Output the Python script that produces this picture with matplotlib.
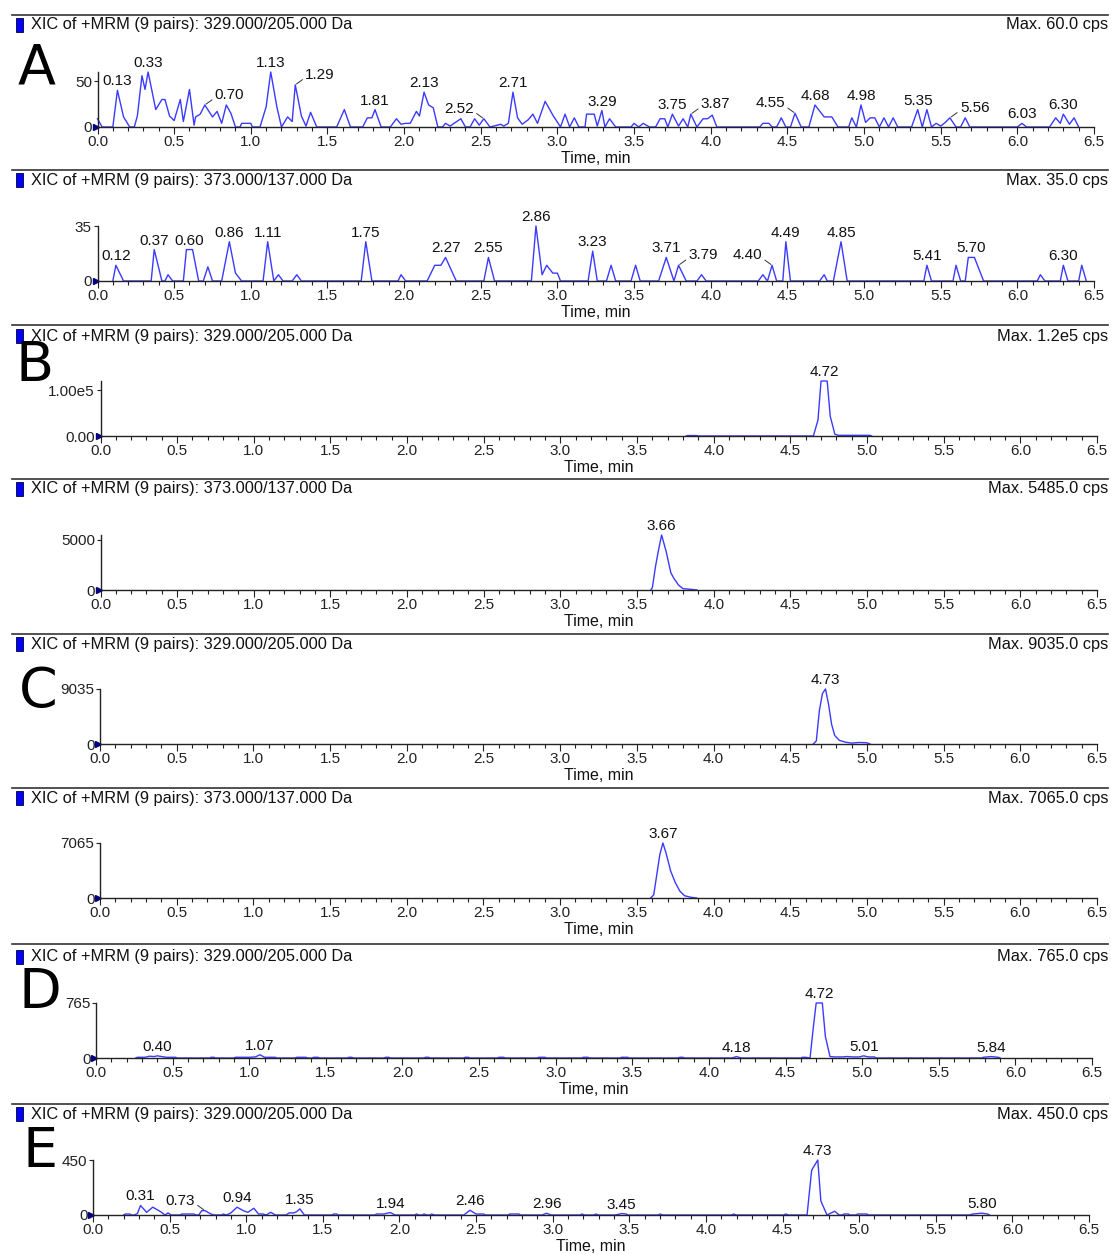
import matplotlib
matplotlib.use('Agg')
import matplotlib.pyplot as plt
import matplotlib.transforms as mtransforms
from matplotlib.lines import Line2D
from matplotlib.patches import Rectangle
from matplotlib.ticker import MultipleLocator, FormatStrFormatter

plt.rcParams['font.family'] = ['Liberation Sans', 'DejaVu Sans']

W, H = 1111, 1254

TITLE_A = 'XIC of +MRM (9 pairs): 329.000/205.000 Da'
TITLE_B = 'XIC of +MRM (9 pairs): 373.000/137.000 Da'

# ---- data: (time min, intensity cps) ----
trace_a1 = [(0.00, 9), (0.03, 0), (0.10, 0), (0.13, 40), (0.17, 11), (0.21, 0), (0.24, 0),
            (0.26, 12), (0.29, 56), (0.31, 41), (0.33, 60), (0.38, 19), (0.42, 30), (0.44, 30),
            (0.47, 12), (0.50, 7), (0.54, 30), (0.56, 6), (0.60, 41), (0.63, 2), (0.64, 11),
            (0.67, 14), (0.70, 24), (0.75, 11), (0.78, 17), (0.81, 4), (0.84, 24), (0.87, 15),
            (0.90, 0), (0.93, 0), (0.94, 4), (1.00, 4), (1.01, 0), (1.06, 0), (1.10, 22),
            (1.13, 60), (1.17, 22), (1.20, 0), (1.24, 11), (1.27, 6), (1.29, 46), (1.33, 12),
            (1.36, 1), (1.39, 16), (1.43, 0), (1.56, 0), (1.61, 19), (1.65, 0), (1.73, 0),
            (1.76, 10), (1.79, 10), (1.81, 19), (1.85, 0), (1.91, 0), (1.95, 9), (1.98, 3),
            (2.01, 4), (2.04, 4), (2.08, 17), (2.10, 12), (2.13, 38), (2.16, 24), (2.19, 21),
            (2.22, 0), (2.25, 0), (2.27, 4), (2.30, 1), (2.37, 9), (2.40, 0), (2.43, 0),
            (2.46, 9), (2.49, 2), (2.52, 9), (2.56, 0), (2.63, 3), (2.65, 1), (2.68, 4),
            (2.71, 38), (2.74, 10), (2.77, 3), (2.81, 8), (2.84, 14), (2.87, 4), (2.92, 28),
            (2.97, 13), (3.02, 0), (3.05, 14), (3.08, 0), (3.11, 10), (3.14, 0), (3.18, 0),
            (3.19, 14), (3.24, 14), (3.26, 1), (3.29, 18), (3.31, 0), (3.34, 9), (3.38, 0),
            (3.48, 0), (3.50, 4), (3.53, 0), (3.56, 4), (3.60, 0), (3.64, 0), (3.67, 9),
            (3.70, 9), (3.72, 0), (3.75, 14), (3.79, 1), (3.82, 9), (3.85, 0), (3.87, 14),
            (3.91, 0), (3.95, 9), (3.98, 9), (4.01, 13), (4.04, 0), (4.32, 0), (4.34, 4),
            (4.38, 4), (4.40, 0), (4.43, 0), (4.46, 10), (4.49, 0), (4.52, 0), (4.55, 15),
            (4.59, 0), (4.64, 0), (4.68, 24), (4.74, 11), (4.79, 11), (4.83, 0), (4.90, 0),
            (4.92, 10), (4.95, 0), (4.98, 24), (5.01, 5), (5.04, 10), (5.07, 10), (5.10, 0),
            (5.13, 10), (5.16, 0), (5.19, 10), (5.22, 0), (5.31, 0), (5.35, 19), (5.38, 0),
            (5.41, 19), (5.44, 0), (5.47, 4), (5.50, 1), (5.53, 5), (5.56, 10), (5.60, 0),
            (5.63, 0), (5.66, 10), (5.69, 0), (6.00, 0), (6.03, 4), (6.06, 0), (6.21, 0),
            (6.25, 10), (6.28, 4), (6.30, 14), (6.34, 3), (6.37, 10), (6.40, 0)]
peaks_a1 = [0.13, 0.33, 0.70, 1.13, 1.29, 1.81, 2.13, 2.52, 2.71, 3.29, 3.75, 3.87,
            4.55, 4.68, 4.98, 5.35, 5.56, 6.03, 6.30]
leaders_a1 = {0.70: 'r', 1.29: 'r', 2.52: 'l', 3.87: 'r', 4.55: 'l', 5.56: 'r'}

trace_a2 = [(0.10, 0), (0.12, 10), (0.17, 0), (0.35, 0), (0.37, 20), (0.42, 0), (0.44, 0),
            (0.46, 4), (0.49, 0), (0.56, 0), (0.58, 20), (0.60, 20), (0.62, 20), (0.66, 0),
            (0.69, 0), (0.72, 9), (0.75, 0), (0.81, 0), (0.86, 25), (0.90, 5), (0.94, 0),
            (1.08, 0), (1.11, 25), (1.15, 0), (1.18, 4), (1.21, 0), (1.27, 0), (1.30, 4),
            (1.33, 0), (1.72, 0), (1.75, 25), (1.79, 0), (1.96, 0), (1.98, 4), (2.01, 0),
            (2.15, 0), (2.20, 10), (2.24, 10), (2.27, 15), (2.34, 0), (2.52, 0), (2.55, 15),
            (2.59, 0), (2.83, 0), (2.86, 35), (2.90, 4), (2.93, 10), (2.97, 5), (3.00, 5),
            (3.02, 0), (3.20, 0), (3.23, 19), (3.26, 0), (3.32, 0), (3.35, 10), (3.38, 0),
            (3.48, 0), (3.51, 10), (3.54, 0), (3.66, 0), (3.71, 15), (3.76, 0), (3.79, 10),
            (3.84, 0), (3.91, 0), (3.94, 4), (3.97, 0), (4.31, 0), (4.34, 4), (4.37, 0),
            (4.40, 10), (4.43, 0), (4.47, 0), (4.49, 25), (4.52, 0), (4.71, 0), (4.74, 4),
            (4.76, 0), (4.80, 0), (4.83, 15), (4.85, 25), (4.89, 0), (5.39, 0), (5.41, 10),
            (5.44, 0), (5.58, 0), (5.60, 10), (5.63, 0), (5.66, 0), (5.68, 15), (5.70, 15),
            (5.72, 15), (5.78, 0), (6.13, 0), (6.15, 4), (6.18, 0), (6.28, 0), (6.30, 10),
            (6.33, 0), (6.40, 0), (6.42, 10), (6.45, 0)]
peaks_a2 = [0.12, 0.37, 0.60, 0.86, 1.11, 1.75, 2.27, 2.55, 2.86, 3.23, 3.71, 3.79,
            4.40, 4.49, 4.85, 5.41, 5.70, 6.30]
leaders_a2 = {3.79: 'r', 4.40: 'l'}

trace_b1 = [(3.82, 0), (3.83, 1000), (3.89, 1000), (3.90, 0), (4.65, 0), (4.68, 35000),
            (4.70, 120000), (4.72, 120000), (4.74, 120000), (4.76, 43000), (4.79, 4000),
            (4.81, 1500), (5.02, 1500), (5.03, 0)]
peaks_b1 = [4.72]

trace_b2 = [(3.59, 0), (3.60, 270), (3.62, 2330), (3.64, 4000), (3.66, 5485), (3.69, 3820),
            (3.72, 1730), (3.74, 1160), (3.77, 500), (3.80, 130), (3.85, 70), (3.89, 0)]
peaks_b2 = [3.66]

trace_c1 = [(4.65, 0), (4.67, 500), (4.69, 5500), (4.71, 8300), (4.73, 9035), (4.75, 6500),
            (4.77, 3200), (4.79, 1400), (4.82, 600), (4.86, 300), (4.90, 150), (4.95, 250),
            (5.00, 200), (5.02, 0)]
peaks_c1 = [4.73]

trace_c2 = [(3.59, 0), (3.61, 400), (3.63, 3000), (3.65, 5600), (3.67, 7065), (3.69, 5800),
            (3.72, 3500), (3.75, 2000), (3.78, 900), (3.81, 300), (3.85, 100), (3.89, 0)]
peaks_c2 = [3.67]

trace_d = [(0.26, 0), (0.27, 10), (0.32, 10), (0.35, 25), (0.38, 20), (0.40, 30), (0.43, 20),
           (0.46, 10), (0.52, 10), (0.53, 0), (0.74, 0), (0.75, 10), (0.77, 10), (0.78, 0),
           (0.90, 0), (0.91, 10), (0.97, 10), (1.00, 10), (1.04, 15), (1.07, 45), (1.10, 10),
           (1.17, 10), (1.18, 0), (1.30, 0), (1.31, 10), (1.37, 10), (1.38, 0), (1.41, 0),
           (1.42, 10), (1.45, 10), (1.46, 0), (1.64, 0), (1.65, 10), (1.67, 10), (1.68, 0),
           (1.88, 0), (1.89, 10), (1.91, 10), (1.92, 0), (2.14, 0), (2.15, 10), (2.17, 10),
           (2.18, 0), (2.40, 0), (2.41, 10), (2.43, 10), (2.44, 0), (2.62, 0), (2.63, 10),
           (2.66, 10), (2.67, 0), (2.88, 0), (2.89, 10), (2.93, 10), (2.94, 0), (3.17, 0),
           (3.18, 10), (3.21, 10), (3.22, 0), (3.42, 0), (3.43, 10), (3.47, 10), (3.48, 0),
           (3.80, 0), (3.81, 10), (3.83, 10), (3.84, 0), (4.15, 0), (4.18, 20), (4.21, 0),
           (4.60, 0), (4.61, 10), (4.63, 10), (4.66, 0), (4.68, 400), (4.70, 765), (4.72, 765),
           (4.74, 765), (4.76, 300), (4.79, 20), (4.82, 15), (4.87, 15), (4.90, 20), (4.94, 15),
           (4.98, 15), (5.01, 30), (5.04, 15), (5.08, 15), (5.09, 0), (5.78, 0), (5.79, 10),
           (5.84, 20), (5.89, 10), (5.90, 0)]
peaks_d = [0.40, 1.07, 4.18, 4.72, 5.01, 5.84]

trace_e = [(0.20, 0), (0.21, 8), (0.24, 8), (0.25, 0), (0.27, 0), (0.29, 12), (0.31, 78),
           (0.35, 22), (0.39, 64), (0.44, 28), (0.47, 0), (0.49, 17), (0.51, 0), (0.57, 0),
           (0.58, 8), (0.66, 8), (0.67, 0), (0.69, 0), (0.71, 36), (0.73, 36), (0.77, 8),
           (0.79, 0), (0.84, 0), (0.85, 8), (0.87, 0), (0.90, 17), (0.94, 64), (0.98, 36),
           (1.01, 22), (1.05, 55), (1.08, 8), (1.11, 8), (1.13, 0), (1.16, 22), (1.19, 0),
           (1.26, 0), (1.28, 17), (1.31, 17), (1.33, 28), (1.35, 50), (1.38, 0), (1.56, 0),
           (1.57, 8), (1.59, 8), (1.60, 0), (1.84, 0), (1.85, 8), (1.90, 8), (1.92, 15),
           (1.94, 20), (1.96, 8), (1.97, 0), (2.10, 0), (2.11, 8), (2.13, 0), (2.15, 0),
           (2.16, 8), (2.18, 0), (2.20, 0), (2.21, 8), (2.23, 0), (2.42, 0), (2.46, 39),
           (2.50, 8), (2.55, 8), (2.56, 0), (2.71, 0), (2.72, 8), (2.78, 8), (2.79, 0),
           (2.93, 0), (2.96, 14), (2.99, 0), (3.18, 0), (3.19, 8), (3.21, 0), (3.27, 0),
           (3.28, 8), (3.30, 0), (3.41, 0), (3.45, 12), (3.48, 8), (3.49, 0), (3.69, 0),
           (3.70, 8), (3.72, 0), (4.17, 0), (4.18, 8), (4.20, 0), (4.51, 0), (4.52, 8),
           (4.54, 0), (4.66, 0), (4.69, 366), (4.73, 450), (4.75, 115), (4.79, 0), (4.84, 31),
           (4.87, 0), (4.89, 0), (4.90, 8), (4.93, 8), (4.94, 0), (4.98, 0), (4.99, 8),
           (5.05, 8), (5.06, 0), (5.72, 0), (5.74, 8), (5.80, 15), (5.84, 8), (5.85, 0)]
peaks_e = [0.31, 0.73, 0.94, 1.35, 1.94, 2.46, 2.96, 3.45, 4.73, 5.80]
leaders_e = {0.73: 'l'}

max_labels = ['Max. 60.0 cps', 'Max. 35.0 cps', 'Max. 1.2e5 cps', 'Max. 5485.0 cps',
              'Max. 9035.0 cps', 'Max. 7065.0 cps', 'Max. 765.0 cps', 'Max. 450.0 cps']
y_max = [60, 35, 1.2e5, 5485, 9035, 7065, 765, 450]
y_tick = [50, 35, 1.0e5, 5000, 9035, 7065, 765, 450]
y_tick_text = [('0', '50'), ('0', '35'), ('0.00', '1.00e5'), ('0', '5000'),
               ('0', '9035'), ('0', '7065'), ('0', '765'), ('0', '450')]
titles = [TITLE_A, TITLE_B, TITLE_A, TITLE_B, TITLE_A, TITLE_B, TITLE_A, TITLE_A]
traces = [trace_a1, trace_a2, trace_b1, trace_b2, trace_c1, trace_c2, trace_d, trace_e]
peaks = [peaks_a1, peaks_a2, peaks_b1, peaks_b2, peaks_c1, peaks_c2, peaks_d, peaks_e]
leaders = [leaders_a1, leaders_a2, {}, {}, {}, {}, {}, leaders_e]
letters = {0: 'A', 2: 'B', 4: 'C', 6: 'D', 7: 'E'}

# ---- layout in pixels (from top) ----
# header line y, title y, axis bottom y, x of 0.0, x of 6.5
geom = [(15, 25, 127, 97.5, 1094),
        (170, 180, 281, 97.5, 1094),
        (325, 336, 436, 100.5, 1097),
        (479, 489, 590, 100.5, 1097),
        (634, 644, 744, 100, 1097),
        (788, 798, 898, 100, 1097),
        (944, 957, 1058, 96, 1092),
        (1104, 1114, 1215, 93, 1089)]
letter_pos = {0: (37, 68), 2: (35, 366), 4: (38, 692), 6: (40, 993), 7: (40, 1152)}
AX_H = 55

LINE = '#3a3aff'
FS = 11
FS_TITLE = 11.8

fig = plt.figure(figsize=(W / 100, H / 100), dpi=100)


def fx(px):
    return px / W


def fy(py):
    return 1 - py / H


for i in range(8):
    line_y, title_y, base_y, x0, x1 = geom[i]

    fig.add_artist(Line2D([fx(12), fx(1108)], [fy(line_y), fy(line_y)],
                          color='#333333', lw=1.2, transform=fig.transFigure))
    fig.add_artist(Rectangle((fx(16), fy(title_y + 7)), 7 / W, 14 / H,
                             facecolor='#0000ff', edgecolor='#000033', lw=0.6,
                             transform=fig.transFigure))
    fig.text(fx(31), fy(title_y), titles[i], fontsize=FS_TITLE, va='center', ha='left',
             color='#111111')
    fig.text(fx(1108), fy(title_y), max_labels[i], fontsize=FS_TITLE, va='center',
             ha='right', color='#111111')
    if i in letters:
        lx, ly = letter_pos[i]
        fig.text(fx(lx), fy(ly), letters[i], fontsize=40, va='center', ha='center',
                 family=['DejaVu Sans'], color='black')

    ax = fig.add_axes([fx(x0), fy(base_y), (x1 - x0) / W, AX_H / H])
    t = [p[0] for p in traces[i]]
    v = [p[1] for p in traces[i]]
    ax.plot(t, v, color=LINE, lw=1.0, clip_on=False)

    ax.set_xlim(0, 6.5)
    ax.set_ylim(0, y_max[i])
    for s in ('top', 'right'):
        ax.spines[s].set_visible(False)
    for s in ('left', 'bottom'):
        ax.spines[s].set_color('#222222')
        ax.spines[s].set_linewidth(1.0)
    ax.patch.set_alpha(0)

    ax.xaxis.set_major_locator(MultipleLocator(0.5))
    ax.xaxis.set_minor_locator(MultipleLocator(0.1))
    ax.xaxis.set_major_formatter(FormatStrFormatter('%.1f'))
    ax.tick_params(axis='x', which='major', length=5, width=0.8, pad=1,
                   labelsize=FS, colors='#222222')
    ax.tick_params(axis='x', which='minor', length=3, width=0.8, colors='#222222')
    ax.set_yticks([0, y_tick[i]])
    ax.set_yticklabels(y_tick_text[i])
    ax.tick_params(axis='y', length=3, width=0.8, pad=1, labelsize=FS,
                   colors='#222222')
    ax.set_xlabel('Time, min', fontsize=11.5, labelpad=1, color='#111111')

    # origin marker
    tr = mtransforms.offset_copy(ax.transData, fig=fig, x=-2, y=0, units='dots')
    ax.plot([0], [0], marker='>', ms=5, color='#000080', transform=tr, clip_on=False)

    # peak labels
    lookup = dict(traces[i])
    for pk in peaks[i]:
        val = lookup[pk]
        side = leaders[i].get(pk)
        if side is None:
            ax.annotate(f'{pk:.2f}', xy=(pk, val), xytext=(0, 2),
                        textcoords='offset pixels', ha='center', va='bottom',
                        fontsize=FS, color='#111111', annotation_clip=False)
        else:
            dx = 10 if side == 'r' else -10
            ax.annotate(f'{pk:.2f}', xy=(pk, val), xytext=(dx, 3),
                        textcoords='offset pixels',
                        ha='left' if side == 'r' else 'right', va='bottom',
                        fontsize=FS, color='#111111', annotation_clip=False,
                        arrowprops=dict(arrowstyle='-', lw=0.7, color='#333333',
                                        shrinkA=0, shrinkB=1,
                                        relpos=(0, 0.3) if side == 'r' else (1, 0.3)))

fig.savefig('out.png', dpi=100)
